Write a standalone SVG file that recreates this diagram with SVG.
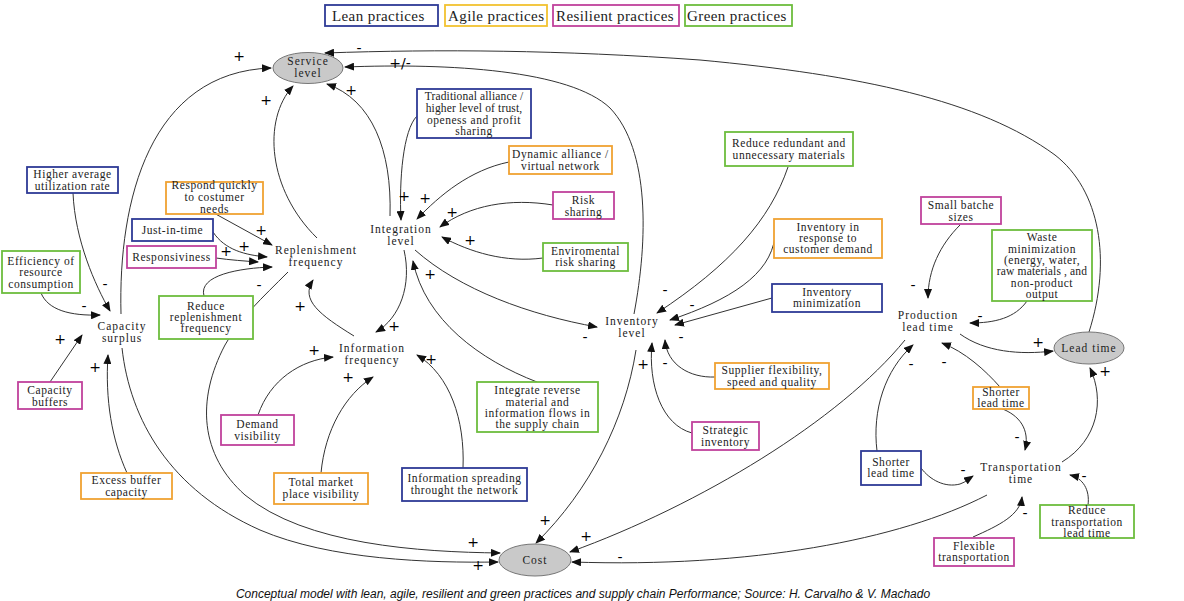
<svg xmlns="http://www.w3.org/2000/svg" width="1184" height="601" viewBox="0 0 1184 601" font-family="Liberation Serif, DejaVu Serif, serif">
<defs>
<marker id="ah" markerWidth="10" markerHeight="8" refX="9" refY="4" orient="auto" markerUnits="userSpaceOnUse">
<path d="M0,0 L10,4 L0,8 z" fill="#111"/>
</marker>
<style>
.t{font-family:'Liberation Serif','DejaVu Serif',serif;font-size:11.5px;letter-spacing:0.55px;text-anchor:middle;fill:#222;}
.tt{letter-spacing:0.15px;}
.n{font-family:'Liberation Serif','DejaVu Serif',serif;font-size:11.5px;letter-spacing:1px;text-anchor:middle;fill:#222;}
.lg{font-family:'Liberation Serif','DejaVu Serif',serif;font-size:15px;letter-spacing:0.4px;fill:#222;}
.s{font-family:'DejaVu Sans','Liberation Sans',sans-serif;font-size:14px;text-anchor:middle;fill:#000;}
.cap{font-family:'Liberation Sans',Arial,sans-serif;font-style:italic;font-size:12px;text-anchor:middle;fill:#111;}
rect{fill:#fff;stroke-width:1.8;}
.lean{stroke:#2e3a96;}
.agile{stroke:#f0a232;}
.agl{stroke:#f2c230;}
.res{stroke:#c0429c;}
.grn{stroke:#6dbd3e;}
ellipse{fill:#c9c9c9;stroke:#777;stroke-width:1;}
#connectors path{fill:none;stroke:#333;stroke-width:1;marker-end:url(#ah);}
</style>
</defs>
<rect width="1184" height="601" style="fill:#fff;stroke:none"/>

<g id="legend">
<rect class="lean" x="325" y="5" width="113" height="21"/><text class="lg" x="332" y="20.5">Lean  practices</text>
<rect class="agl" x="445" y="5" width="102" height="21"/><text class="lg" x="448" y="20.5">Agile  practices</text>
<rect class="res" x="553" y="5" width="126" height="21"/><text class="lg" x="556" y="20.5">Resilient  practices</text>
<rect class="grn" x="685" y="5" width="107" height="21"/><text class="lg" x="687" y="20.5">Green practices</text>
</g>

<g id="connectors">
<path d="M121,314 C118,200 150,72 271,68"/>
<path d="M317,238 C268,190 262,120 293,86"/>
<path d="M390,216 C392,150 372,100 327,84"/>
<path d="M1089,332 C1112,260 1100,190 1055,155 C980,100 860,75 700,60 C560,50 440,49 325,53"/>
<path d="M634,314 C648,240 650,150 610,108 C570,70 450,63 345,67"/>
<path d="M417,116 C403,130 399,180 401,220"/>
<path d="M509,162 C470,170 440,195 417,219"/>
<path d="M553,205 C510,198 470,205 440,227"/>
<path d="M543,258 C505,263 470,252 442,237"/>
<path d="M415,250 C460,290 530,315 597,327"/>
<path d="M404,250 C412,285 400,318 376,332"/>
<path d="M537,382 C480,360 425,320 413,261"/>
<path d="M212,212 L272,245"/>
<path d="M213,232 C225,250 245,255 267,257"/>
<path d="M216,258 C230,260 245,261 258,262"/>
<path d="M204,296 C198,275 240,268 272,267"/>
<path d="M354,336 C320,315 300,300 313,280"/>
<path d="M288,272 C262,298 240,318 225,345 C196,400 200,455 245,495 C305,545 420,552 500,553"/>
<path d="M122,348 C130,420 170,490 260,530 C330,560 430,563 498,562"/>
<path d="M73,193 C75,240 95,285 110,311"/>
<path d="M41,293 C48,310 70,316 100,315"/>
<path d="M50,382 L82,335"/>
<path d="M127,473 C112,440 105,400 108,355"/>
<path d="M258,415 C270,380 300,360 333,357"/>
<path d="M321,473 C325,430 345,395 373,377"/>
<path d="M463,468 C465,420 450,375 417,355"/>
<path d="M788,167 C770,220 730,265 657,313"/>
<path d="M775,237 C770,275 730,300 670,320"/>
<path d="M772,298 L675,325"/>
<path d="M715,377 C690,378 667,365 665,340"/>
<path d="M692,433 C662,425 648,385 652,343"/>
<path d="M636,350 C625,420 590,490 536,543"/>
<path d="M960,225 C940,245 928,270 928,298"/>
<path d="M1027,301 C1015,318 995,323 970,323"/>
<path d="M960,334 C985,352 1020,355 1053,351"/>
<path d="M1000,387 C985,370 965,352 942,343"/>
<path d="M877,451 C872,410 885,370 913,345"/>
<path d="M905,340 C840,420 700,505 570,552"/>
<path d="M1000,408 C1020,415 1030,430 1025,450"/>
<path d="M921,468 C930,480 945,488 960,484 C966,482 970,478 973,476"/>
<path d="M973,537 C1000,525 1020,515 1022,497"/>
<path d="M1088,505 C1090,490 1083,478 1070,475"/>
<path d="M1062,462 C1098,440 1105,400 1090,368"/>
<path d="M987,495 C900,540 750,568 572,562"/>
</g>

<g id="signs">
<text class="s" x="239" y="61">+</text><text class="s" x="266" y="105">+</text><text class="s" x="351" y="95">+</text>
<text class="s" x="359" y="53">-</text><text class="s" x="400" y="68">+/-</text>
<text class="s" x="404" y="201">+</text><text class="s" x="425" y="203">+</text><text class="s" x="452" y="217">+</text>
<text class="s" x="470" y="245">+</text><text class="s" x="430" y="279">+</text><text class="s" x="394" y="331">+</text>
<text class="s" x="585" y="342">-</text>
<text class="s" x="261" y="235">+</text><text class="s" x="244" y="251">+</text><text class="s" x="226" y="256">+</text>
<text class="s" x="259" y="290">-</text><text class="s" x="300" y="311">+</text>
<text class="s" x="105" y="289">-</text><text class="s" x="84" y="311">-</text><text class="s" x="60" y="344">+</text><text class="s" x="95" y="372">+</text>
<text class="s" x="314" y="355">+</text><text class="s" x="348" y="382">+</text><text class="s" x="431" y="364">+</text>
<text class="s" x="665" y="295">-</text><text class="s" x="692" y="310">-</text><text class="s" x="681" y="342">-</text>
<text class="s" x="665" y="368">-</text><text class="s" x="643" y="369">+</text>
<text class="s" x="913" y="290">-</text><text class="s" x="980" y="321">-</text><text class="s" x="1038" y="347">+</text>
<text class="s" x="944" y="367">-</text><text class="s" x="911" y="369">-</text>
<text class="s" x="1017" y="442">-</text><text class="s" x="963" y="475">-</text><text class="s" x="1025" y="518">-</text>
<text class="s" x="1084" y="481">-</text><text class="s" x="1105" y="376">+</text>
<text class="s" x="473" y="547">+</text><text class="s" x="478" y="570">+</text><text class="s" x="545" y="525">+</text>
<text class="s" x="586" y="541">+</text><text class="s" x="620" y="562">-</text>
</g>

<g id="service-level"><ellipse cx="308" cy="68" rx="35" ry="15.5"/><text class="n" x="308" y="65">Service</text><text class="n" x="308" y="77">level</text></g>
<g id="cost"><ellipse cx="535" cy="560" rx="36" ry="16"/><text class="n" x="535" y="564">Cost</text></g>
<g id="lead-time"><ellipse cx="1089" cy="348" rx="35" ry="16"/><text class="n" x="1089" y="352">Lead time</text></g>

<g id="capacity-surplus"><text class="n" x="122" y="330">Capacity</text><text class="n" x="122" y="342">surplus</text></g>
<g id="replenishment-frequency"><text class="n" x="316" y="254">Replenishment</text><text class="n" x="316" y="266">frequency</text></g>
<g id="integration-level"><text class="n" x="401" y="233">Integration</text><text class="n" x="401" y="245">level</text></g>
<g id="information-frequency"><text class="n" x="372" y="352">Information</text><text class="n" x="372" y="364">frequency</text></g>
<g id="inventory-level"><text class="n" x="632" y="325">Inventory</text><text class="n" x="632" y="337">level</text></g>
<g id="production-lead-time"><text class="n" x="928" y="319">Production</text><text class="n" x="928" y="331">lead time</text></g>
<g id="transportation-time"><text class="n" x="1021" y="471">Transportation</text><text class="n" x="1021" y="483">time</text></g>

<g id="higher-average"><rect class="lean" x="27" y="167" width="91" height="26"/><text class="t" x="72.5" y="178">Higher average</text><text class="t" x="72.5" y="190">utilization rate</text></g>
<g id="just-in-time"><rect class="lean" x="132" y="219" width="81" height="22"/><text class="t" x="172.5" y="234">Just-in-time</text></g>
<g id="traditional-alliance"><rect class="lean" x="417" y="89" width="114" height="49"/><text class="t tt" x="474" y="100">Traditional alliance /</text><text class="t tt" x="474" y="112">higher level of trust,</text><text class="t" x="474" y="124">openess and profit</text><text class="t" x="474" y="135">sharing</text></g>
<g id="inventory-minimization"><rect class="lean" x="772" y="284" width="110" height="28"/><text class="t" x="827" y="296">Inventory</text><text class="t" x="827" y="307">minimization</text></g>
<g id="information-spreading"><rect class="lean" x="402" y="468" width="125" height="33"/><text class="t" x="464.5" y="482">Information spreading</text><text class="t" x="464.5" y="494">throught the network</text></g>
<g id="shorter-lead-time-lean"><rect class="lean" x="861" y="451" width="60" height="34"/><text class="t" x="891" y="466">Shorter</text><text class="t" x="891" y="477">lead time</text></g>

<g id="respond-quickly"><rect class="agile" x="166" y="182" width="97" height="32"/><text class="t" x="214.5" y="189">Respond quickly</text><text class="t" x="214.5" y="201">to costumer</text><text class="t" x="214.5" y="213">needs</text></g>
<g id="dynamic-alliance"><rect class="agile" x="509" y="146" width="103" height="28"/><text class="t" x="560.5" y="158">Dynamic alliance /</text><text class="t" x="560.5" y="170">virtual network</text></g>
<g id="inventory-response"><rect class="agile" x="774" y="219" width="108" height="39"/><text class="t" x="828" y="231">Inventory in</text><text class="t" x="828" y="242">response to</text><text class="t" x="828" y="253">customer demand</text></g>
<g id="supplier-flexibility"><rect class="agile" x="715" y="363" width="114" height="26"/><text class="t" x="772" y="374">Supplier flexibility,</text><text class="t" x="772" y="386">speed and quality</text></g>
<g id="excess-buffer"><rect class="agile" x="81" y="473" width="91" height="26"/><text class="t" x="126.5" y="484">Excess buffer</text><text class="t" x="126.5" y="496">capacity</text></g>
<g id="total-market"><rect class="agile" x="274" y="473" width="94" height="31"/><text class="t" x="321" y="486">Total market</text><text class="t" x="321" y="498">place visibility</text></g>
<g id="shorter-lead-time-agile"><rect class="agile" x="973" y="387" width="56" height="22"/><text class="t" x="1001" y="396">Shorter</text><text class="t" x="1001" y="407">lead time</text></g>

<g id="responsiviness"><rect class="res" x="127" y="246" width="89" height="22"/><text class="t" x="171.5" y="261">Responsiviness</text></g>
<g id="risk-sharing"><rect class="res" x="553" y="192" width="61" height="27"/><text class="t" x="583.5" y="204">Risk</text><text class="t" x="583.5" y="216">sharing</text></g>
<g id="capacity-buffers"><rect class="res" x="18" y="382" width="64" height="27"/><text class="t" x="50" y="394">Capacity</text><text class="t" x="50" y="406">buffers</text></g>
<g id="demand-visibility"><rect class="res" x="221" y="415" width="73" height="30"/><text class="t" x="257.5" y="428">Demand</text><text class="t" x="257.5" y="440">visibility</text></g>
<g id="strategic-inventory"><rect class="res" x="692" y="422" width="67" height="28"/><text class="t" x="725.5" y="434">Strategic</text><text class="t" x="725.5" y="446">inventory</text></g>
<g id="small-batche"><rect class="res" x="921" y="197" width="80" height="27"/><text class="t" x="961" y="209">Small batche</text><text class="t" x="961" y="221">sizes</text></g>
<g id="flexible-transportation"><rect class="res" x="934" y="538" width="80" height="28"/><text class="t" x="974" y="550">Flexible</text><text class="t" x="974" y="561">transportation</text></g>

<g id="efficiency"><rect class="grn" x="2" y="251" width="78" height="42"/><text class="t" x="41" y="265">Efficiency of</text><text class="t" x="41" y="276">resource</text><text class="t" x="41" y="288">consumption</text></g>
<g id="reduce-replenishment"><rect class="grn" x="159" y="296" width="94" height="43"/><text class="t" x="206" y="310">Reduce</text><text class="t" x="206" y="321">replenishment</text><text class="t" x="206" y="332">frequency</text></g>
<g id="enviromental-risk"><rect class="grn" x="543" y="243" width="85" height="28"/><text class="t" x="585.5" y="255">Enviromental</text><text class="t" x="585.5" y="266">risk sharing</text></g>
<g id="integrate-reverse"><rect class="grn" x="477" y="382" width="121" height="50"/><text class="t" x="537.5" y="394">Integrate reverse</text><text class="t" x="537.5" y="406">material and</text><text class="t" x="537.5" y="417">information flows in</text><text class="t" x="537.5" y="428">the supply chain</text></g>
<g id="reduce-redundant"><rect class="grn" x="725" y="132" width="128" height="34"/><text class="t" x="789" y="147">Reduce redundant  and</text><text class="t" x="789" y="159">unnecessary materials</text></g>
<g id="waste-minimization"><rect class="grn" x="992" y="230" width="100" height="71"/><text class="t" x="1042" y="241">Waste</text><text class="t" x="1042" y="253">minimization</text><text class="t" x="1042" y="264">(energy, water,</text><text class="t tt" x="1042" y="275">raw materials , and</text><text class="t" x="1042" y="287">non-product</text><text class="t" x="1042" y="298">output</text></g>
<g id="reduce-transportation"><rect class="grn" x="1040" y="505" width="94" height="33"/><text class="t" x="1087" y="514">Reduce</text><text class="t" x="1087" y="526">transportation</text><text class="t" x="1087" y="537">lead time</text></g>

<text class="cap" x="583" y="598">Conceptual model with lean, agile, resilient and green practices and supply chain Performance; Source: H. Carvalho &amp; V. Machado</text>
</svg>
